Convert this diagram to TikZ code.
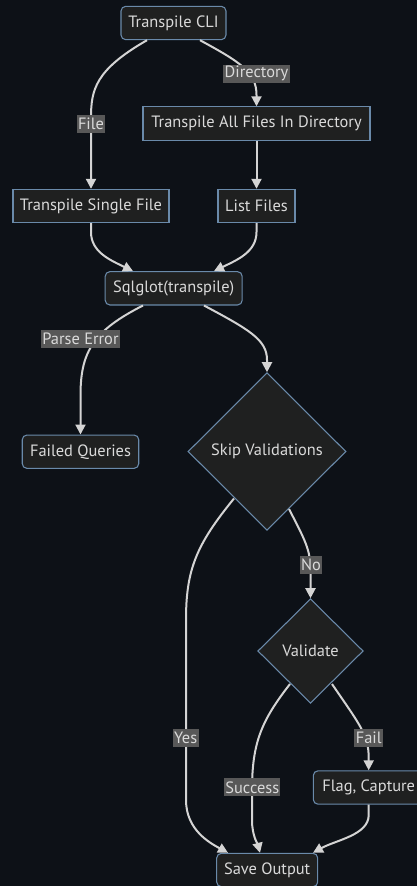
\documentclass[tikz,border=0pt]{standalone}
\usepackage{fontspec}
\setmainfont{PT Sans}
\usetikzlibrary{arrows.meta,shapes.geometric,calc}

\definecolor{bgc}{HTML}{0D1117}
\definecolor{nodefill}{HTML}{1F2020}
\definecolor{nodeline}{HTML}{6A8AAA}
\definecolor{edgec}{HTML}{D4D4D4}
\definecolor{lblbg}{HTML}{585858}
\definecolor{txtc}{HTML}{DADADA}

\tikzset{
  txt/.style={font=\fontsize{12.3}{14}\selectfont},
  box/.style={draw=nodeline, fill=nodefill, line width=0.8pt, text=txtc, txt,
    inner sep=0pt, minimum height=25pt},
  roundbox/.style={box, rounded corners=3.5pt},
  decision/.style={draw=nodeline, fill=nodefill, line width=0.8pt, text=txtc, txt,
    diamond, inner sep=0pt},
  flow/.style={draw=edgec, line width=1.5pt,
    -{Triangle[length=7.5pt,width=7.5pt]}},
  lbl/.style={fill=lblbg, text=txtc, txt, inner sep=1pt, minimum height=13.5pt},
}

\begin{document}
\begin{tikzpicture}[x=0.75pt, y=-0.75pt]
  \fill[bgc] (0,0) rectangle (417,886);
  \useasboundingbox (0,0) rectangle (417,886);
  \clip (0,0) rectangle (417,886);

  % nodes
  \node[roundbox, minimum width=105*0.75pt] (cli) at (173.5,23) {Transpile CLI};
  \node[box, minimum width=227*0.75pt] (all) at (256.5,123.5) {Transpile All Files In Directory};
  \node[box, minimum width=156*0.75pt] (single) at (91,206) {Transpile Single File};
  \node[box, minimum width=77*0.75pt] (list) at (256.5,206) {List Files};
  \node[roundbox, minimum width=137*0.75pt] (sql) at (173.7,288.3) {Sqlglot(transpile)};
  \node[roundbox, minimum width=116.5*0.75pt] (failed) at (80.5,451.7) {Failed Queries};
  \node[decision, minimum width=158*0.75pt, minimum height=157.5*0.75pt] (skip) at (267,451.5) {Skip Validations};
  \node[decision, minimum width=105.5*0.75pt, minimum height=104.5*0.75pt] (val) at (310.5,651) {Validate};
  \node[roundbox, minimum width=110.8*0.75pt] (flag) at (368.7,787.5) {Flag, Capture};
  \node[roundbox, minimum width=101*0.75pt] (save) at (267.2,870) {Save Output};

  % connectors
  \draw[flow] ($(cli.south)+(-26.5,0)$) .. controls (95,70) and (91,90) .. (91,118) -- (single.north);
  \draw[flow] ($(cli.south)+(26.5,0)$) .. controls (240,62) and (256.5,72) .. (256.5,95) -- (all.north);
  \draw[flow] (all.south) -- (list.north);
  \draw[flow] (single.south) -- (91,232) .. controls (91,252) and (110,260) .. ($(sql.north)+(-40.7,0)$);
  \draw[flow] (list.south) -- (256.5,232) .. controls (256.5,252) and (237,260) .. ($(sql.north)+(40.3,0)$);
  \draw[flow] ($(sql.south)+(-30.7,0)$) .. controls (95,330) and (80.5,350) .. (80.5,395) -- (failed.north);
  \draw[flow] ($(sql.south)+(30.3,0)$) .. controls (250,330) and (267,340) .. (267,360) -- (skip.north);
  \draw[flow] ($(skip.center)+(-33,47)$) .. controls (196,545) and (186,570) .. (186,620)
      -- (186,800) .. controls (186,830) and (210,843) .. ($(save.north)+(-39.2,0)$);
  \draw[flow] ($(skip.center)+(22,57.5)$) .. controls (305,540) and (310.5,550) .. (310.5,570) -- (val.north);
  \draw[flow] ($(val.center)+(-20.5,33)$) .. controls (262,720) and (252,742) .. (252,790)
      -- (252,820) .. controls (252,836) and (258,845) .. ($(save.north)+(-7.2,0)$);
  \draw[flow] ($(val.center)+(21.5,33)$) .. controls (360,725) and (368.7,735) .. (368.7,758) -- (flag.north);
  \draw[flow] (flag.south) -- (368.7,815) .. controls (368.7,835) and (336,840) .. ($(save.north)+(45.8,0)$);

  % edge labels
  \node[lbl] (lfile) at (91,123.5) {File};
  \node[lbl] (ldir) at (256.5,73.5) {Directory};
  \node[lbl] (lparse) at (80.5,338.7) {Parse Error};
  \node[lbl] (lyes) at (185.7,737.7) {Yes};
  \node[lbl] (lno) at (311,564.7) {No};
  \node[lbl] (lsucc) at (252.3,787.3) {Success};
  \node[lbl] (lfail) at (368.7,737.7) {Fail};
\end{tikzpicture}
\end{document}
